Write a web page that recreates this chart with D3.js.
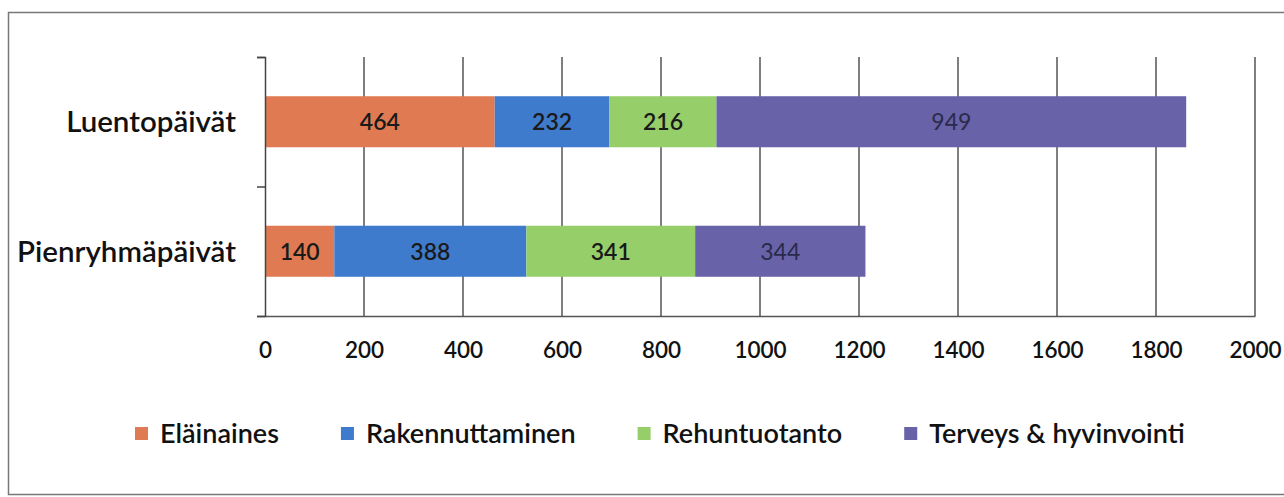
<!DOCTYPE html>
<html>
<head>
<meta charset="utf-8">
<script src="https://cdn.jsdelivr.net/npm/d3@7"></script>
<style>
  body { margin: 0; background: #fff; }
  svg { display: block; font-family: Lato, "Open Sans", sans-serif; }
</style>
</head>
<body>
<svg id="chart"></svg>
<script>
// data
let categories = ["Luentopäivät", "Pienryhmäpäivät"];
let seriesNames = ["Eläinaines", "Rakennuttaminen", "Rehuntuotanto", "Terveys & hyvinvointi"];
let elainaines = [464, 140];
let rakennuttaminen = [232, 388];
let rehuntuotanto = [216, 341];
let terveys = [949, 344];
let xTicks = [0, 200, 400, 600, 800, 1000, 1200, 1400, 1600, 1800, 2000];
let colors = ["#E07A52", "#3F7BCC", "#96CF6A", "#6862A8"];

let width = 1284;
let height = 497;
let margin = { top: 57, left: 265, right: 29, bottom: 181 };
let bodyWidth = width - margin.left - margin.right;
let bodyHeight = height - margin.top - margin.bottom;

let svg = d3.select("#chart").attr("width", width).attr("height", height);

// outer frame of the scanned chart
svg.append("path")
  .attr("d", "M1284,12.5 H8.5 V494.5 H1284")
  .attr("fill", "none").attr("stroke", "#777").attr("stroke-width", 1.5);

let table = categories.map((c, i) => ({
  category: c,
  "Eläinaines": elainaines[i],
  "Rakennuttaminen": rakennuttaminen[i],
  "Rehuntuotanto": rehuntuotanto[i],
  "Terveys & hyvinvointi": terveys[i],
}));
let stacked = d3.stack().keys(seriesNames)(table);

let xScale = d3.scaleLinear().domain([0, 2000]).range([0, bodyWidth]);
let yScale = d3.scaleBand()
  .domain(categories)
  .range([0, bodyHeight])
  .paddingInner(0.606)
  .paddingOuter(0.303);
let color = d3.scaleOrdinal().domain(seriesNames).range(colors);

let body = svg.append("g").attr("transform", `translate(${margin.left},${margin.top})`);

// gridlines
body.append("g")
  .selectAll("line")
  .data(xTicks.slice(1))
  .join("line")
  .attr("x1", (d) => xScale(d)).attr("x2", (d) => xScale(d))
  .attr("y1", 0).attr("y2", bodyHeight)
  .attr("stroke", "#555").attr("stroke-width", 1.5);

// bars
let layers = body.append("g")
  .selectAll("g")
  .data(stacked)
  .join("g")
  .attr("fill", (d) => color(d.key));

layers.selectAll("rect")
  .data((d) => d)
  .join("rect")
  .attr("x", (d) => xScale(d[0]))
  .attr("y", (d) => yScale(d.data.category))
  .attr("width", (d) => xScale(d[1]) - xScale(d[0]))
  .attr("height", yScale.bandwidth());

// value labels
layers.selectAll("text")
  .data((d) => d.map((v) => ({ v, key: d.key })))
  .join("text")
  .attr("x", (d) => xScale((d.v[0] + d.v[1]) / 2))
  .attr("y", (d) => yScale(d.v.data.category) + yScale.bandwidth() / 2)
  .attr("dy", "0.36em")
  .attr("text-anchor", "middle")
  .attr("font-size", 23)
  .attr("font-weight", (d) => d.key === "Terveys & hyvinvointi" ? 400 : 600)
  .attr("fill", (d) => d.key === "Terveys & hyvinvointi" ? "#2a2a4a" : "#1a1a1a")
  .text((d) => d.v[1] - d.v[0]);

// x axis
let xAxis = d3.axisBottom(xScale)
  .tickValues(xTicks)
  .tickFormat(d3.format("d"))
  .tickSize(0)
  .tickPadding(26);
let gx = body.append("g")
  .attr("transform", `translate(0,${bodyHeight})`)
  .call(xAxis);
gx.select(".domain").attr("stroke", "#555").attr("stroke-width", 1.5);
gx.selectAll("text")
  .attr("font-size", 22.5).attr("font-weight", 600)
  .attr("fill", "#111").attr("font-family", "Lato");

// y axis
let yEdges = d3.axisLeft(d3.scaleLinear().domain([0, 2]).range([0, bodyHeight]))
  .ticks(2).tickSize(8).tickFormat("");
let gy = body.append("g").call(yEdges);
gy.selectAll("path, line").attr("stroke", "#444").attr("stroke-width", 1.5);

body.append("g")
  .selectAll("text")
  .data(categories)
  .join("text")
  .attr("x", -29)
  .attr("y", (d) => yScale(d) + yScale.bandwidth() / 2)
  .attr("dy", "0.36em")
  .attr("text-anchor", "end")
  .attr("font-size", 29.5)
  .attr("font-weight", 600)
  .attr("fill", "#111")
  .text((d) => d);

// legend
let legend = svg.append("g").attr("transform", "translate(135,433)");
let lx = 0;
seriesNames.forEach((name) => {
  let item = legend.append("g").attr("transform", `translate(${lx},0)`);
  item.append("rect")
    .attr("x", 0).attr("y", -6)
    .attr("width", 13).attr("height", 13)
    .attr("fill", color(name));
  let t = item.append("text")
    .attr("x", 25).attr("dy", "0.36em")
    .attr("font-size", 27).attr("font-weight", 600).attr("fill", "#111")
    .text(name);
  lx += 25 + t.node().getComputedTextLength() + 62;
});
</script>
</body>
</html>
